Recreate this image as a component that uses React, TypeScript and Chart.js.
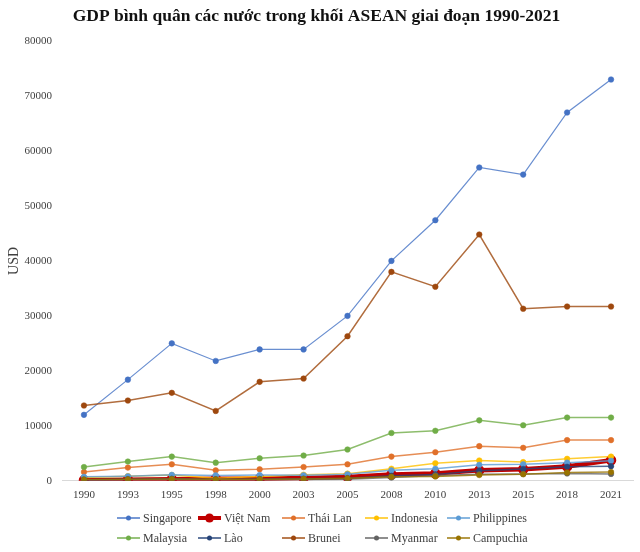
import React, { useEffect, useRef } from "react";
import { Chart, registerables } from "chart.js";

Chart.register(...registerables);

const years = ["1990", "1993", "1995", "1998", "2000", "2003", "2005", "2008", "2010", "2013", "2015", "2018", "2021"];

const singapore = [12000, 18400, 25000, 21800, 23900, 23900, 30000, 40000, 47400, 57000, 55700, 67000, 73000];
const vietNam = [100, 180, 290, 360, 390, 530, 700, 1150, 1320, 1900, 2100, 2600, 3750];
const thaiLan = [1600, 2400, 3000, 1900, 2100, 2500, 3000, 4400, 5200, 6300, 6000, 7400, 7400];
const indonesia = [600, 850, 1050, 480, 800, 1100, 1300, 2200, 3200, 3700, 3400, 4000, 4400];
const philippines = [720, 820, 1080, 980, 1050, 1020, 1200, 1900, 2200, 2900, 3000, 3300, 3650];
const malaysia = [2500, 3500, 4400, 3300, 4100, 4600, 5700, 8700, 9100, 11000, 10100, 11500, 11500];
const lao = [200, 290, 380, 260, 320, 380, 480, 900, 1150, 1850, 2150, 2550, 2650];
const brunei = [13700, 14600, 16000, 12700, 18000, 18600, 26300, 38000, 35300, 44800, 31300, 31700, 31700];
const myanmar = [150, 180, 220, 200, 200, 230, 260, 580, 980, 1200, 1250, 1350, 1250];
const campuchia = [250, 260, 320, 270, 300, 350, 470, 750, 800, 1050, 1180, 1500, 1600];

const seriesNames = ["Singapore", "Việt Nam", "Thái Lan", "Indonesia", "Philippines", "Malaysia", "Lào", "Brunei", "Myanmar", "Campuchia"];
const seriesValues = [singapore, vietNam, thaiLan, indonesia, philippines, malaysia, lao, brunei, myanmar, campuchia];
const seriesColors = ["#4472C4", "#C00000", "#E0702A", "#FFC000", "#5B9BD5", "#70AD47", "#264478", "#9E480E", "#636363", "#997300"];

const yTicksMax = 80000;
const yTickStep = 10000;

const FONT = "'Liberation Serif', 'Times New Roman', serif";

function alpha(hex: string, a: number) {
  const n = parseInt(hex.slice(1), 16);
  return `rgba(${(n >> 16) & 255},${(n >> 8) & 255},${n & 255},${a})`;
}

const legendPlugin = {
  id: "gridLegend",
  afterDraw(chart: any) {
    const ctx = chart.ctx as CanvasRenderingContext2D;
    const cols = 5;
    const colX = [117, 198, 282, 365, 447];
    const rowY = [518, 538];
    ctx.save();
    ctx.font = `12px ${FONT}`;
    ctx.textBaseline = "middle";
    ctx.textAlign = "left";
    chart.data.datasets.forEach((ds: any, i: number) => {
      const c = i % cols;
      const r = Math.floor(i / cols);
      const x = colX[c];
      const y = rowY[r];
      const isVN = i === 1;
      ctx.strokeStyle = ds.borderColor;
      ctx.lineWidth = isVN ? 4 : 1.8;
      ctx.beginPath();
      ctx.moveTo(x, y);
      ctx.lineTo(x + 23, y);
      ctx.stroke();
      ctx.fillStyle = ds.pointBackgroundColor;
      ctx.beginPath();
      ctx.arc(x + 11.5, y, isVN ? 4.5 : 2.5, 0, Math.PI * 2);
      ctx.fill();
      ctx.fillStyle = "#404040";
      ctx.fillText(ds.label, x + 26, y + 1);
    });
    ctx.restore();
  },
};

export default function App() {
  const ref = useRef<HTMLCanvasElement | null>(null);
  useEffect(() => {
    if (!ref.current) return;
    const n = seriesNames.length;
    const datasets = seriesNames.map((name, i) => {
      const isVN = i === 1;
      return {
        label: name,
        data: seriesValues[i],
        borderColor: isVN ? seriesColors[i] : alpha(seriesColors[i], 0.8),
        backgroundColor: seriesColors[i],
        pointBackgroundColor: seriesColors[i],
        pointBorderColor: isVN ? "#C00000" : seriesColors[i],
        borderWidth: isVN ? 4.5 : i === 0 ? 1.2 : 1.5,
        pointRadius: isVN ? 4.5 : 2.8,
        pointBorderWidth: isVN ? 1.5 : 0.5,
        tension: 0,
        order: n - i,
      };
    });
    const chart = new Chart(ref.current, {
      type: "line",
      data: { labels: years, datasets },
      plugins: [legendPlugin],
      options: {
        animation: false,
        responsive: false,
        maintainAspectRatio: false,
        layout: { padding: { left: 0, right: 7, top: 6, bottom: 42 } },
        plugins: {
          legend: { display: false },
          tooltip: { enabled: false },
          title: {
            display: true,
            text: "GDP bình quân các nước trong khối ASEAN giai đoạn 1990-2021",
            color: "#111",
            font: { family: FONT, size: 17.5, weight: "bold" },
            padding: { top: 0, bottom: 14 },
          },
        },
        scales: {
          x: {
            offset: true,
            grid: { display: false, drawTicks: false },
            border: { display: true, color: "#d9d9d9", width: 1 },
            ticks: { color: "#404040", font: { family: FONT, size: 11 }, padding: 8, maxRotation: 0 },
          },
          y: {
            min: 0,
            max: yTicksMax,
            grid: { display: false, drawTicks: false },
            border: { display: false },
            afterFit: (scale: any) => {
              scale.width = 62;
            },
            ticks: {
              stepSize: yTickStep,
              color: "#404040",
              font: { family: FONT, size: 11 },
              padding: 10,
              callback: (v: any) => String(v),
            },
            title: { display: true, text: "USD", color: "#404040", font: { family: FONT, size: 14 }, padding: { top: 6, bottom: 0 } },
          },
        },
      },
    } as any);
    return () => chart.destroy();
  }, []);
  return (
    <div style={{ position: "fixed", left: 0, top: 0, width: 640, height: 552, background: "#fff" }}>
      <canvas ref={ref} width={640} height={552} style={{ width: 640, height: 552 }} />
    </div>
  );
}
